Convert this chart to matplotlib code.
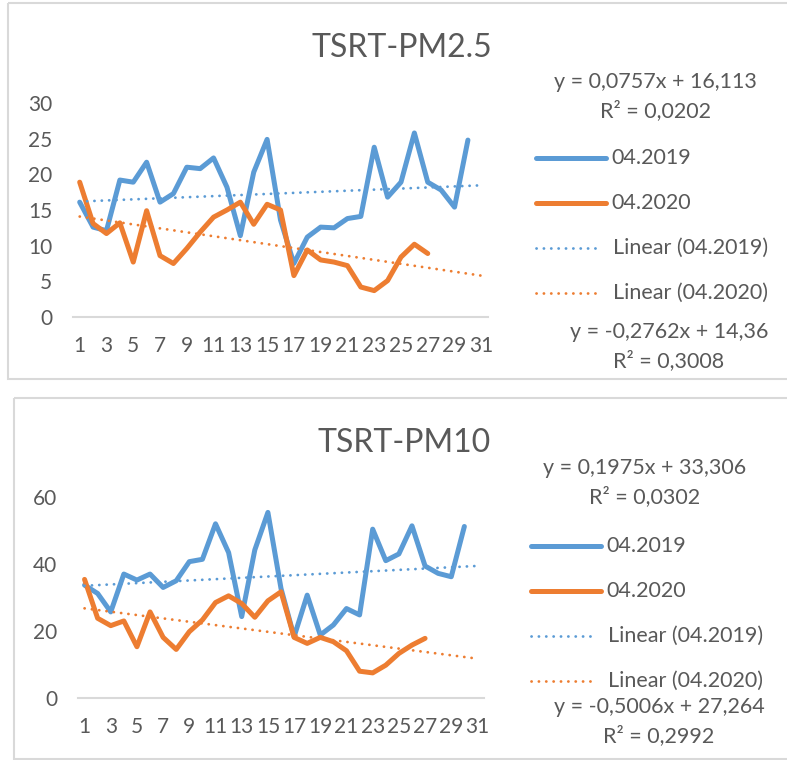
import numpy as np
import matplotlib
matplotlib.use("Agg")
import matplotlib.pyplot as plt
from matplotlib.lines import Line2D
from matplotlib.patches import Rectangle

plt.rcParams['font.family'] = ['Lato', 'DejaVu Sans']

# PM2.5, April daily values
pm25_2019 = [16.1, 12.6, 12.1, 19.2, 18.9, 21.7, 16.1, 17.3, 21.0, 20.8,
             22.3, 18.2, 11.4, 20.3, 24.9, 13.6, 7.5, 11.2, 12.6, 12.5,
             13.8, 14.1, 23.8, 16.8, 18.9, 25.8, 18.9, 17.8, 15.4, 24.8]
pm25_2020 = [18.9, 13.1, 11.7, 13.2, 7.7, 14.9, 8.6, 7.5, 9.6, 11.9,
             14.0, 15.0, 16.1, 13.0, 15.8, 15.0, 5.8, 9.4, 8.0, 7.7,
             7.2, 4.2, 3.7, 5.1, 8.4, 10.2, 8.9]
# PM10
pm10_2019 = [33.7, 31.2, 25.7, 37.0, 35.2, 37.0, 33.0, 35.0, 40.7, 41.4,
             52.0, 43.4, 24.3, 44.2, 55.4, 32.7, 18.3, 30.7, 18.8, 21.8,
             26.7, 24.8, 50.4, 41.0, 43.0, 51.4, 39.4, 37.2, 36.2, 51.2]
pm10_2020 = [35.4, 23.8, 21.6, 23.0, 15.3, 25.7, 18.1, 14.5, 19.8, 23.3,
             28.5, 30.5, 28.2, 24.1, 29.0, 31.7, 18.1, 16.3, 18.1, 16.8,
             14.1, 8.0, 7.5, 9.8, 13.3, 15.8, 17.8]

# Excel trendline coefficients (slope, intercept, R2)
trend_pm25 = {"2019": (0.0757, 16.113, "0,0202"), "2020": (-0.2762, 14.36, "0,3008")}
trend_pm10 = {"2019": (0.1975, 33.306, "0,0302"), "2020": (-0.5006, 27.264, "0,2992")}

days = np.arange(1, 32)
xticks = list(range(1, 32, 2))

BLUE = "#5B9BD5"
ORANGE = "#ED7D31"
GRAY = "#595959"
LGRAY = "#D9D9D9"
DOTS = (0, (0.05, 2.6))

W, H = 787, 760
fig = plt.figure(figsize=(W / 100, H / 100), dpi=100)

# overlay in pixel coords for frames, legend and labels
ov = fig.add_axes([0, 0, 1, 1])
ov.set_xlim(0, W)
ov.set_ylim(H, 0)
ov.axis("off")
ov.set_zorder(0)


def px_axes(left, top, right, bottom):
    return fig.add_axes([left / W, 1 - bottom / H, (right - left) / W, (bottom - top) / H])


def eq_text(m, b):
    return "y = %sx + %s" % (f"{m:.4f}".replace(".", ","), f"{b:g}".replace(".", ","))


def panel(box, ax_box, ymax, ystep, d19, d20, trend, title, title_xy,
          eq19_xy, leg_x, leg_y, eq20_xy):
    x0, y0, x1, y1 = box
    ov.add_patch(Rectangle((x0, y0), x1 - x0, y1 - y0, fill=False,
                           edgecolor=LGRAY, linewidth=1.5))
    ax = px_axes(*ax_box)
    ax.set_zorder(1)
    ax.patch.set_alpha(0)
    ax.plot(range(1, len(d19) + 1), d19, color=BLUE, lw=3.6,
            solid_joinstyle="round", solid_capstyle="round")
    ax.plot(range(1, len(d20) + 1), d20, color=ORANGE, lw=3.6,
            solid_joinstyle="round", solid_capstyle="round")
    for key, col in (("2019", BLUE), ("2020", ORANGE)):
        m, b, _ = trend[key]
        ax.plot(days, m * days + b, color=col, lw=2.0,
                linestyle=DOTS, dash_capstyle="round")
    ax.set_xlim(0.5, 31.5)
    ax.set_ylim(0, ymax)
    ax.set_xticks(xticks)
    ax.set_yticks(np.arange(0, ymax + 1, ystep))
    for s in ("top", "left", "right"):
        ax.spines[s].set_visible(False)
    ax.spines["bottom"].set_color(LGRAY)
    ax.spines["bottom"].set_linewidth(1.5)
    ax.tick_params(axis="x", length=0, pad=14, labelsize=15, labelcolor=GRAY)
    ax.tick_params(axis="y", length=0, pad=15, labelsize=15, labelcolor=GRAY)

    ov.text(*title_xy, title, fontsize=23, color=GRAY, ha="center", va="center")

    m, b, r2 = trend["2019"]
    ov.text(eq19_xy[0], eq19_xy[1], eq_text(m, b), fontsize=15.5, color=GRAY,
            ha="center", va="center")
    ov.text(eq19_xy[0], eq19_xy[1] + 29, "R² = " + r2, fontsize=15.5, color=GRAY,
            ha="center", va="center")
    m, b, r2 = trend["2020"]
    ov.text(eq20_xy[0], eq20_xy[1], eq_text(m, b), fontsize=15.5, color=GRAY,
            ha="center", va="center")
    ov.text(eq20_xy[0], eq20_xy[1] + 29, "R² = " + r2, fontsize=15.5, color=GRAY,
            ha="center", va="center")

    entries = [("04.2019", BLUE, "-"), ("04.2020", ORANGE, "-"),
               ("Linear (04.2019)", BLUE, ":"), ("Linear (04.2020)", ORANGE, ":")]
    for i, (lab, col, ls) in enumerate(entries):
        yy = leg_y + i * 45
        if ls == "-":
            ov.add_line(Line2D([leg_x, leg_x + 70], [yy, yy], color=col, lw=3.6,
                               solid_capstyle="round"))
            ov.text(leg_x + 75, yy, lab, fontsize=15.5, color=GRAY, va="center")
        else:
            ov.add_line(Line2D([leg_x, leg_x + 64], [yy, yy], color=col, lw=2.0,
                               linestyle=DOTS, dash_capstyle="round"))
            ov.text(leg_x + 77, yy, lab, fontsize=15.5, color=GRAY, va="center")
    return ax


panel((8, 3, 790, 379), (73, 103, 488, 317), 30, 5, pm25_2019, pm25_2020,
      trend_pm25, "TSRT-PM2.5", (402, 48), (655, 82), 536, 158, (669, 332))
panel((14, 398, 790, 759), (78, 497, 484, 698), 60, 20, pm10_2019, pm10_2020,
      trend_pm10, "TSRT-PM10", (404, 443), (645, 468), 531, 546, (659, 707))

fig.savefig("out.png", dpi=100)
